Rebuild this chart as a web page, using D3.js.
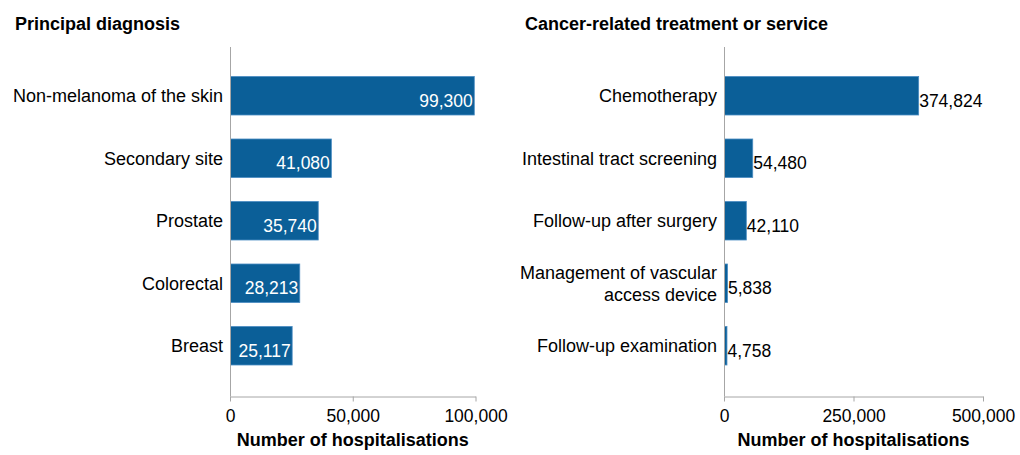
<!DOCTYPE html>
<html>
<head>
<meta charset="utf-8">
<script src="https://cdn.jsdelivr.net/npm/d3@7"></script>
<style>
  html, body { margin: 0; padding: 0; background: #fff; }
  svg { display: block; font-family: "Liberation Sans", Arial, sans-serif; }
</style>
</head>
<body>
<svg id="chart" width="1020" height="455"></svg>
<script>
// ---- Data ----
const leftTitle = "Principal diagnosis";
const leftCategories = ["Non-melanoma of the skin", "Secondary site", "Prostate", "Colorectal", "Breast"];
const leftValues = [99300, 41080, 35740, 28213, 25117];
const leftTicks = [0, 50000, 100000];

const rightTitle = "Cancer-related treatment or service";
const rightCategories = ["Chemotherapy", "Intestinal tract screening", "Follow-up after surgery", "Management of vascular\naccess device", "Follow-up examination"];
const rightValues = [374824, 54480, 42110, 5838, 4758];
const rightTicks = [0, 250000, 500000];

const axisTitle = "Number of hospitalisations";

// ---- Drawing ----
const svg = d3.select("#chart");
const fmt = d3.format(",");
const barFill = "#0b5f98";
const barStroke = "#4a8cc2";
const axisColor = "#a6a6a6";
const fontSize = 18;
const numSize = 17.5;

function panel(opts) {
  const { title, titleX, categories, values, ticks, xRange, inside } = opts;
  const g = svg.append("g");

  const x = d3.scaleLinear().domain([ticks[0], ticks[ticks.length - 1]]).range(xRange);
  const y = d3.scaleBand().domain(categories).range([64.5, 377]).paddingInner(0.384).paddingOuter(0.192);

  // title
  g.append("text").attr("x", titleX).attr("y", 30)
    .attr("font-size", fontSize).attr("font-weight", "bold").attr("fill", "#000")
    .text(title);

  // bars
  g.selectAll("rect.bar").data(values).enter().append("rect")
    .attr("class", "bar")
    .attr("x", x(0) + 0.5)
    .attr("y", (d, i) => y(categories[i]))
    .attr("width", d => Math.max(0, x(d) - x(0)))
    .attr("height", y.bandwidth())
    .attr("fill", barFill)
    .attr("stroke", barStroke)
    .attr("stroke-width", 0.8);

  // x axis
  const axisY = 396.5;
  const xAxis = d3.axisBottom(x).tickValues(ticks).tickFormat(fmt).tickSize(5).tickSizeOuter(0);
  const ax = g.append("g").attr("transform", `translate(0,${axisY})`).call(xAxis);
  ax.select(".domain").attr("stroke", axisColor);
  ax.selectAll(".tick line").attr("stroke", axisColor);
  ax.selectAll(".tick text").attr("font-size", numSize).attr("fill", "#000")
    .attr("font-family", "Liberation Sans, Arial, sans-serif")
    .attr("y", 13.5).attr("dy", "0.71em");

  // vertical axis line
  g.append("line")
    .attr("x1", Math.round(x(0)) + 0.5).attr("x2", Math.round(x(0)) + 0.5)
    .attr("y1", 47).attr("y2", axisY)
    .attr("stroke", axisColor);

  // axis title
  g.append("text").attr("x", (xRange[0] + xRange[1]) / 2).attr("y", 446)
    .attr("text-anchor", "middle").attr("font-size", fontSize).attr("font-weight", "bold")
    .attr("fill", "#000").text(axisTitle);

  // category labels
  categories.forEach((c, i) => {
    const lines = c.split("\n");
    const cy = y(c) + y.bandwidth() / 2;
    const t = g.append("text").attr("text-anchor", "end").attr("font-size", fontSize).attr("fill", "#000");
    const lh = 22;
    const startY = cy + 6.5 - (lines.length - 1) * lh / 2;
    lines.forEach((ln, j) => {
      t.append("tspan").attr("x", x(0) - 7).attr("y", startY + j * lh).text(ln);
    });
  });

  // value labels
  g.selectAll("text.val").data(values).enter().append("text")
    .attr("class", "val")
    .attr("x", d => inside ? x(d) - 1 : x(d) + 1)
    .attr("y", (d, i) => y(categories[i]) + y.bandwidth() / 2 + 11)
    .attr("text-anchor", inside ? "end" : "start")
    .attr("font-size", numSize)
    .attr("fill", inside ? "#fff" : "#000")
    .text(d => fmt(d));
}

panel({ title: leftTitle, titleX: 15, categories: leftCategories, values: leftValues, ticks: leftTicks, xRange: [230, 475.5], inside: true });
panel({ title: rightTitle, titleX: 525, categories: rightCategories, values: rightValues, ticks: rightTicks, xRange: [724, 983], inside: false });
</script>
</body>
</html>
